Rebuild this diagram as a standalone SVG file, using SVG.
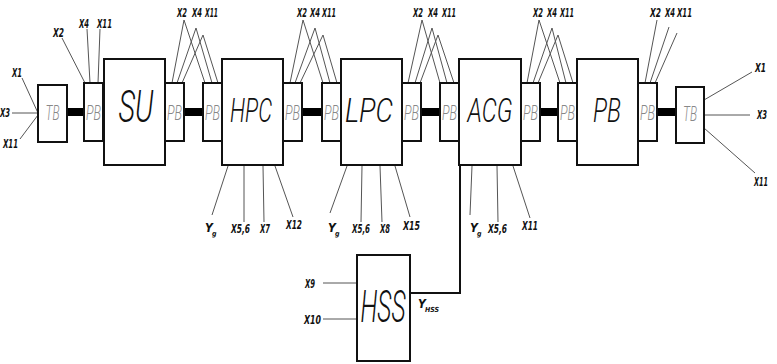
<svg xmlns="http://www.w3.org/2000/svg" width="777" height="364" viewBox="0 0 777 364">
<style>
.box{fill:#fff;stroke:#111;stroke-width:2}
.bar{fill:#000}
.sig{stroke:#555;stroke-width:1;fill:none}
.conn{stroke:#111;stroke-width:2;fill:none}
.big{font-family:Roboto,"DejaVu Sans",sans-serif;font-style:italic;font-weight:300;fill:#111;text-anchor:middle}
.small{font-family:Roboto,"DejaVu Sans",sans-serif;font-style:italic;font-weight:300;font-size:20px;fill:#888;text-anchor:middle}
.lab{font-family:"DejaVu Sans Condensed","DejaVu Sans",sans-serif;font-style:italic;font-weight:bold;font-size:12px;fill:#111}
.sub{font-size:7px}
</style>
<rect width="777" height="364" fill="#fff"/>
<g id="connectors">
<rect class="bar" x="67" y="108" width="17" height="8"/>
<rect class="bar" x="184" y="108" width="19" height="8"/>
<rect class="bar" x="303" y="108" width="19" height="8"/>
<rect class="bar" x="421" y="108" width="19" height="8"/>
<rect class="bar" x="539" y="108" width="19" height="8"/>
<rect class="bar" x="657" y="108" width="19" height="8"/>
<path class="sig" d="M22,78 L38,113 M12,113 L38,113 M20,139 L38,115"/>
<path class="sig" d="M62,38 L85,83 M87,29 L90,83 M100,29 L98,83"/>
<path class="sig" d="M172,83 L184,20 L205,83 M177,83 L196,28 L212,83 M182,83 L203,35 L218,83"/>
<path class="sig" d="M290,83 L303,20 L323,83 M295,83 L315,28 L330,83 M300,83 L323,35 L337,83"/>
<path class="sig" d="M408,83 L422,20 L440,83 M415,83 L432,28 L447,83 M420,83 L438,35 L454,83"/>
<path class="sig" d="M527,83 L539,20 L560,83 M533,83 L552,28 L566,83 M538,83 L558,35 L573,83"/>
<path class="sig" d="M657,20 L645,83 M669,27 L650,83 M677,33 L655,83"/>
<path class="sig" d="M752,72 L704,100 M704,115 L750,115 M704,128 L755,173"/>
<path class="sig" d="M228,166 L212,215 M244,166 L244,222 M263,166 L264,222 M275,166 L293,217"/>
<path class="sig" d="M347,166 L330,213 M362,166 L361,222 M380,166 L382,222 M395,166 L410,217"/>
<path class="sig" d="M472,166 L470,215 M497,166 L498,222 M513,166 L530,218"/>
<path class="sig" d="M323,283 L357,283 M323,319 L357,319"/>
<polyline class="conn" points="460,165 460,293 410,293"/>
</g>
<g id="TB1"><rect class="box" x="38" y="85" width="29" height="57"/><text class="small" x="52.5" y="120" textLength="14" lengthAdjust="spacingAndGlyphs">TB</text></g>
<g id="PB1"><rect class="box" x="84" y="83" width="19" height="58"/><text class="small" x="93.5" y="120" textLength="15" lengthAdjust="spacingAndGlyphs">PB</text></g>
<g id="SU"><rect class="box" x="104" y="59" width="61" height="106"/><text class="big" x="136" y="122" font-size="44" textLength="35" lengthAdjust="spacingAndGlyphs">SU</text></g>
<g id="PB2"><rect class="box" x="165" y="83" width="19" height="58"/><text class="small" x="174.5" y="120" textLength="15" lengthAdjust="spacingAndGlyphs">PB</text></g>
<g id="PB3"><rect class="box" x="203" y="83" width="19" height="58"/><text class="small" x="212.5" y="120" textLength="15" lengthAdjust="spacingAndGlyphs">PB</text></g>
<g id="HPC"><rect class="box" x="222" y="59" width="61" height="106"/><text class="big" x="251" y="122" font-size="34" textLength="42" lengthAdjust="spacingAndGlyphs">HPC</text></g>
<g id="PB4"><rect class="box" x="283" y="83" width="19" height="58"/><text class="small" x="292.5" y="120" textLength="15" lengthAdjust="spacingAndGlyphs">PB</text></g>
<g id="PB5"><rect class="box" x="322" y="83" width="19" height="58"/><text class="small" x="331.5" y="120" textLength="15" lengthAdjust="spacingAndGlyphs">PB</text></g>
<g id="LPC"><rect class="box" x="341" y="59" width="61" height="106"/><text class="big" x="369" y="122" font-size="34" textLength="48" lengthAdjust="spacingAndGlyphs">LPC</text></g>
<g id="PB6"><rect class="box" x="402" y="83" width="19" height="58"/><text class="small" x="411.5" y="120" textLength="15" lengthAdjust="spacingAndGlyphs">PB</text></g>
<g id="PB7"><rect class="box" x="440" y="83" width="19" height="58"/><text class="small" x="449.5" y="120" textLength="15" lengthAdjust="spacingAndGlyphs">PB</text></g>
<g id="ACG"><rect class="box" x="459" y="59" width="62" height="106"/><text class="big" x="490" y="122" font-size="34" textLength="45" lengthAdjust="spacingAndGlyphs">ACG</text></g>
<g id="PB8"><rect class="box" x="521" y="83" width="19" height="58"/><text class="small" x="530.5" y="120" textLength="15" lengthAdjust="spacingAndGlyphs">PB</text></g>
<g id="PB9"><rect class="box" x="558" y="83" width="19" height="58"/><text class="small" x="567.5" y="120" textLength="15" lengthAdjust="spacingAndGlyphs">PB</text></g>
<g id="PB"><rect class="box" x="577" y="59" width="61" height="106"/><text class="big" x="607" y="122" font-size="34" textLength="28" lengthAdjust="spacingAndGlyphs">PB</text></g>
<g id="PB10"><rect class="box" x="638" y="83" width="19" height="58"/><text class="small" x="647.5" y="120" textLength="15" lengthAdjust="spacingAndGlyphs">PB</text></g>
<g id="TB2"><rect class="box" x="676" y="87" width="28" height="56"/><text class="small" x="690" y="121" textLength="14" lengthAdjust="spacingAndGlyphs">TB</text></g>
<g id="HSS"><rect class="box" x="357" y="255" width="53" height="106"/><text class="big" x="383" y="322" font-size="44" textLength="45" lengthAdjust="spacingAndGlyphs">HSS</text></g>
<g id="labels">
<text class="lab" x="12" y="77" textLength="10" lengthAdjust="spacingAndGlyphs">X1</text>
<text class="lab" x="0" y="117" textLength="10" lengthAdjust="spacingAndGlyphs">X3</text>
<text class="lab" x="3" y="148" textLength="15" lengthAdjust="spacingAndGlyphs">X11</text>
<text class="lab" x="53" y="37" textLength="11" lengthAdjust="spacingAndGlyphs">X2</text>
<text class="lab" x="79" y="28" textLength="10" lengthAdjust="spacingAndGlyphs">X4</text>
<text class="lab" x="97" y="28" textLength="15" lengthAdjust="spacingAndGlyphs">X11</text>
<text class="lab" x="177" y="17" textLength="10" lengthAdjust="spacingAndGlyphs">X2</text>
<text class="lab" x="192" y="17" textLength="10" lengthAdjust="spacingAndGlyphs">X4</text>
<text class="lab" x="205" y="17" textLength="13" lengthAdjust="spacingAndGlyphs">X11</text>
<text class="lab" x="297" y="17" textLength="10" lengthAdjust="spacingAndGlyphs">X2</text>
<text class="lab" x="310" y="17" textLength="10" lengthAdjust="spacingAndGlyphs">X4</text>
<text class="lab" x="322" y="17" textLength="14" lengthAdjust="spacingAndGlyphs">X11</text>
<text class="lab" x="413" y="17" textLength="10" lengthAdjust="spacingAndGlyphs">X2</text>
<text class="lab" x="428" y="17" textLength="10" lengthAdjust="spacingAndGlyphs">X4</text>
<text class="lab" x="442" y="17" textLength="14" lengthAdjust="spacingAndGlyphs">X11</text>
<text class="lab" x="533" y="17" textLength="10" lengthAdjust="spacingAndGlyphs">X2</text>
<text class="lab" x="547" y="17" textLength="10" lengthAdjust="spacingAndGlyphs">X4</text>
<text class="lab" x="560" y="17" textLength="14" lengthAdjust="spacingAndGlyphs">X11</text>
<text class="lab" x="650" y="17" textLength="11" lengthAdjust="spacingAndGlyphs">X2</text>
<text class="lab" x="665" y="17" textLength="10" lengthAdjust="spacingAndGlyphs">X4</text>
<text class="lab" x="677" y="17" textLength="15" lengthAdjust="spacingAndGlyphs">X11</text>
<text class="lab" x="755" y="72" textLength="11" lengthAdjust="spacingAndGlyphs">X1</text>
<text class="lab" x="757" y="119" textLength="10" lengthAdjust="spacingAndGlyphs">X3</text>
<text class="lab" x="754" y="186" textLength="14" lengthAdjust="spacingAndGlyphs">X11</text>
<text class="lab" x="205" y="232">Y</text><text class="lab sub" x="212" y="236">g</text>
<text class="lab" x="231" y="233" textLength="19" lengthAdjust="spacingAndGlyphs">X5,6</text>
<text class="lab" x="260" y="233" textLength="10" lengthAdjust="spacingAndGlyphs">X7</text>
<text class="lab" x="286" y="229" textLength="16" lengthAdjust="spacingAndGlyphs">X12</text>
<text class="lab" x="328" y="232">Y</text><text class="lab sub" x="335" y="236">g</text>
<text class="lab" x="352" y="233" textLength="18" lengthAdjust="spacingAndGlyphs">X5,6</text>
<text class="lab" x="380" y="233" textLength="10" lengthAdjust="spacingAndGlyphs">X8</text>
<text class="lab" x="403" y="230" textLength="17" lengthAdjust="spacingAndGlyphs">X15</text>
<text class="lab" x="470" y="232">Y</text><text class="lab sub" x="477" y="236">g</text>
<text class="lab" x="488" y="233" textLength="19" lengthAdjust="spacingAndGlyphs">X5,6</text>
<text class="lab" x="522" y="230" textLength="16" lengthAdjust="spacingAndGlyphs">X11</text>
<text class="lab" x="305" y="288" textLength="10" lengthAdjust="spacingAndGlyphs">X9</text>
<text class="lab" x="304" y="324" textLength="17" lengthAdjust="spacingAndGlyphs">X10</text>
<text class="lab" x="418" y="308">Y</text><text class="lab sub" x="425" y="312">HSS</text>
</g>
</svg>
